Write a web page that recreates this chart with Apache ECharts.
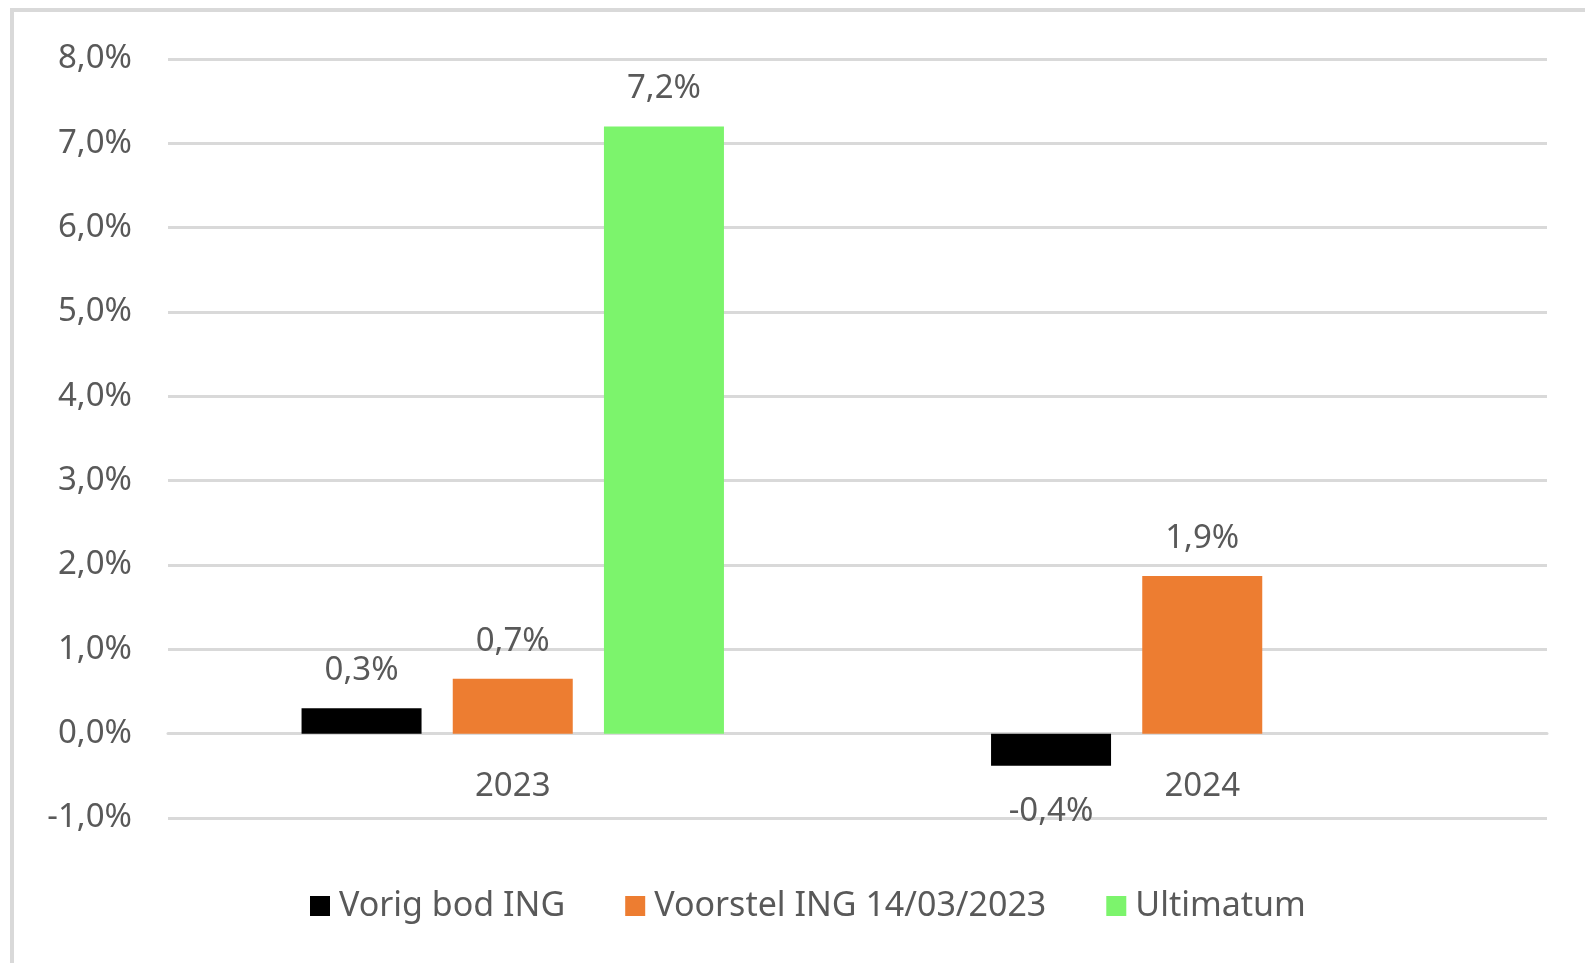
<!DOCTYPE html>
<html lang="nl">
<head>
    <meta charset="utf-8">
    <script src="https://cdn.jsdelivr.net/npm/echarts@6/dist/echarts.min.js"></script>
    <style>
        html, body { margin: 0; padding: 0; background: #fff; }
        #frame {
            position: absolute; left: 10px; top: 8px; width: 1575px; height: 955px;
            border-left: 4px solid #d9d9d9; border-top: 4px solid #d9d9d9;
        }
        #chart { position: absolute; left: 0; top: 0; width: 1585px; height: 963px; }
    </style>
</head>
<body>
<div id="frame"></div>
<div id="chart"></div>

<script type="text/javascript">
    var categories = ['2023', '2024'];
    var seriesNames = ['Vorig bod ING', 'Voorstel ING 14/03/2023', 'Ultimatum'];
    var vorigBod = [0.3, -0.38];
    var voorstel = [0.65, 1.87];
    var ultimatum = [7.2, null];
    var colors = ['#000000', '#ed7d31', '#7cf46c'];

    var textColor = '#595959';
    var font = 'Noto Sans';

    function pct(v) {
        return (Math.round(v * 10) / 10).toFixed(1).replace('.', ',') + '%';
    }

    // negative bars get their label underneath
    function toData(values) {
        return values.map(function (v) {
            if (v === null) return null;
            return {
                value: v,
                label: v < 0 ? {position: 'bottom', distance: 29} : {position: 'top', distance: 21}
            };
        });
    }

    var chart = echarts.init(document.getElementById('chart'));
    var option = {
        animation: false,
        textStyle: {fontFamily: font},
        grid: {left: 168, right: 38, top: 59, bottom: 145, containLabel: false},
        legend: {
            left: 305,
            top: 884,
            itemWidth: 20,
            itemHeight: 20,
            itemGap: 60,
            icon: 'rect',
            textStyle: {color: textColor, fontSize: 34, fontFamily: font, padding: [0, 0, 0, 4]},
            data: seriesNames
        },
        xAxis: {
            type: 'category',
            data: categories,
            axisLine: {onZero: true, lineStyle: {color: '#d9d9d9', width: 3}},
            axisTick: {show: false},
            axisLabel: {color: textColor, fontSize: 33, fontFamily: font, margin: -48}
        },
        yAxis: {
            type: 'value',
            min: -1,
            max: 8,
            interval: 1,
            axisLine: {show: false},
            axisTick: {show: false},
            splitLine: {lineStyle: {color: '#d9d9d9', width: 3}},
            axisLabel: {
                color: textColor, fontSize: 33, fontFamily: font, margin: 36,
                padding: [5, 0, 0, 0],
                formatter: function (v) { return pct(v); }
            }
        },
        series: [vorigBod, voorstel, ultimatum].map(function (vals, i) {
            return {
                name: seriesNames[i],
                type: 'bar',
                data: toData(vals),
                barWidth: 120,
                barGap: '26%',
                itemStyle: {color: colors[i]},
                label: {
                    show: true,
                    color: textColor,
                    fontSize: 33,
                    fontFamily: font,
                    formatter: function (p) { return pct(p.value); }
                }
            };
        })
    };
    chart.setOption(option);
</script>
</body>
</html>
